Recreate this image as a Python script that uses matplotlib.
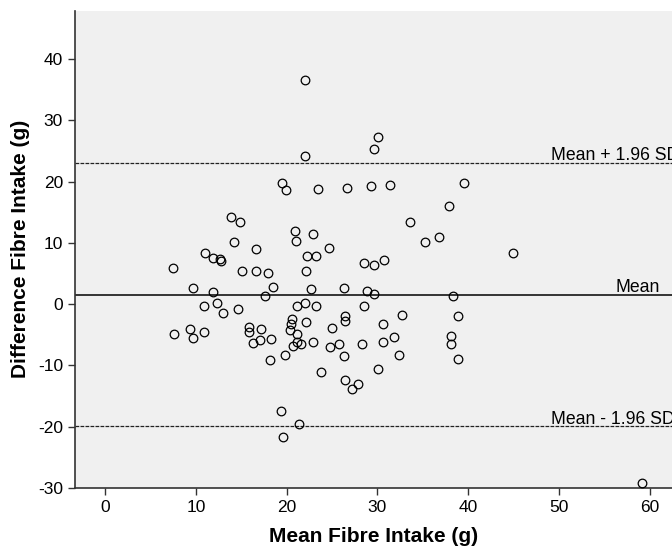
import matplotlib
matplotlib.use("Agg")
import matplotlib.pyplot as plt

plt.rc('font', family='Liberation Sans')
plt.rcParams['axes.unicode_minus'] = False

# Bland-Altman data: mean of two methods vs difference (g)
mean_fibre = [22.05, 30.07, 29.6, 22.05, 19.45, 19.9, 23.5, 26.65, 29.3, 31.4, 39.5, 37.9,
              13.86, 14.8, 14.15, 16.65, 11.0, 11.87, 12.68, 12.76, 7.43, 15.04, 16.65, 17.9,
              18.45, 9.63, 11.87, 17.57, 10.9, 12.28, 12.94, 14.63, 9.3, 7.6, 9.7, 10.85,
              15.88, 15.88, 17.13, 16.28, 17.05, 18.3,
              33.56, 35.2, 36.76, 20.95, 21.06, 22.93, 24.63, 22.27, 23.26, 22.13, 28.49, 29.66,
              30.73, 22.68, 26.3, 28.9, 29.66, 38.34, 21.17, 21.98, 23.27, 28.52, 32.75, 38.89,
              20.62, 20.44, 20.33, 22.13, 26.46, 26.43, 25.03, 30.62, 21.1, 31.8, 38.08, 38.08,
              22.93, 25.77, 28.27, 30.65, 21.54, 21.17, 20.66, 24.77,
              18.16, 19.78, 26.35, 32.35, 38.89, 23.78, 30.07, 26.46, 27.86, 27.2, 19.34, 21.32,
              19.63, 59.14, 45.0]
diff_fibre = [36.65, 27.2, 25.4, 24.1, 19.8, 18.6, 18.85, 18.95, 19.3, 19.4, 19.8, 16.0,
              14.3, 13.45, 10.1, 9.0, 8.3, 7.47, 7.4, 6.97, 5.83, 5.34, 5.39, 5.12,
              2.83, 2.6, 2.0, 1.3, -0.33, 0.16, -1.4, -0.82, -4.0, -4.8, -5.5, -4.6,
              -3.8, -4.5, -4.1, -6.3, -5.8, -5.7,
              13.4, 10.1, 10.95, 11.9, 10.3, 11.38, 9.2, 7.8, 7.8, 5.39, 6.7, 6.43,
              7.19, 2.5, 2.6, 2.23, 1.63, 1.3, -0.33, 0.16, -0.38, -0.38, -1.69, -1.9,
              -2.45, -3.3, -4.2, -2.89, -2.0, -2.72, -3.87, -3.22, -4.85, -5.29, -5.23, -6.48,
              -6.2, -6.48, -6.43, -6.15, -6.48, -6.15, -6.8, -7.0,
              -9.15, -8.28, -8.45, -8.22, -8.99, -11.0, -10.5, -12.37, -13.1, -13.9, -17.4, -19.55,
              -21.7, -29.2, 8.28]

bias = 1.55
upper_loa = 23.05
lower_loa = -19.95

x_ticks = [0, 10, 20, 30, 40, 50, 60]
y_ticks = [-30, -20, -10, 0, 10, 20, 30, 40]

fig = plt.figure(figsize=(6.72, 5.53), dpi=100)
ax = fig.add_axes([0.1113, 0.1175, 0.8887, 0.8633])
ax.set_facecolor('#f0f0f0')

ax.plot(mean_fibre, diff_fibre, 'o', markersize=6.2, markerfacecolor='none',
        markeredgecolor='black', markeredgewidth=0.9, clip_on=False, zorder=3)

ax.axhline(bias, color='black', linewidth=1.1)
ax.axhline(upper_loa, color='#222222', linewidth=0.9, dashes=(3, 1))
ax.axhline(lower_loa, color='#222222', linewidth=0.9, dashes=(3, 1))

# the reference crops the SD labels at the right edge, as here
ax.text(49.1, upper_loa + 0.4, 'Mean + 1.96 SD', fontsize=12.7, va='baseline', ha='left')
ax.text(56.2, bias + 0.4, 'Mean', fontsize=12.7, va='baseline', ha='left')
ax.text(49.1, lower_loa + 0.4, 'Mean - 1.96 SD', fontsize=12.7, va='baseline', ha='left')

ax.set_xlim(-3.36, 62.48)
ax.set_ylim(-30, 47.9)
ax.set_xticks(x_ticks)
ax.set_yticks(y_ticks)
ax.tick_params(direction='out', length=5, width=1, colors='#333333', labelcolor='black',
               labelsize=12.5)

for side in ['top', 'right']:
    ax.spines[side].set_visible(False)
for side in ['left', 'bottom']:
    ax.spines[side].set_color('#333333')
    ax.spines[side].set_linewidth(1.2)

ax.set_xlabel('Mean Fibre Intake (g)', fontsize=15, fontweight='bold', labelpad=9)
ax.set_ylabel('Difference Fibre Intake (g)', fontsize=15, fontweight='bold', labelpad=6)

fig.savefig('out.png', dpi=100)
